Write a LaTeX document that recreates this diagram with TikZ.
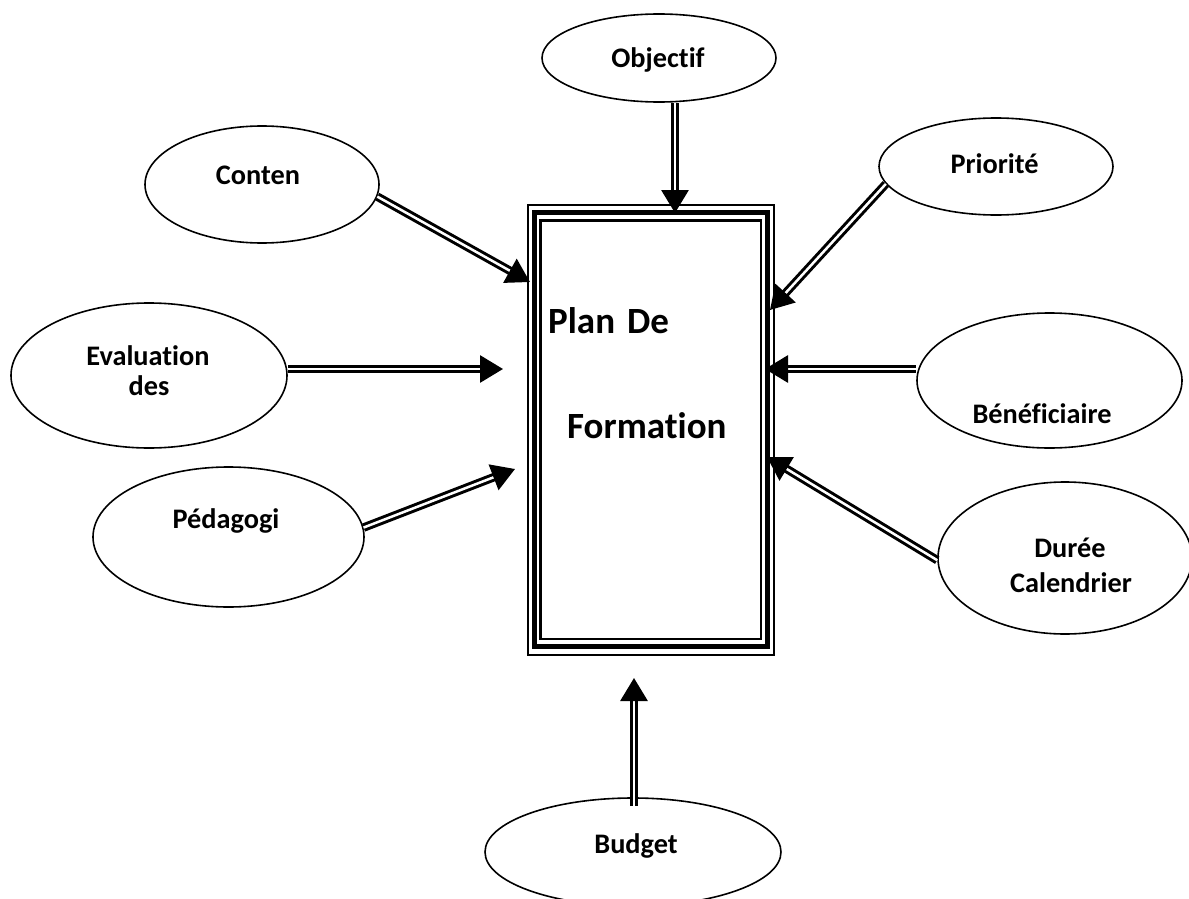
\documentclass[tikz,border=0pt]{standalone}
\usepackage{fontspec}
\setmainfont[Ligatures=NoCommon]{Carlito}
\usetikzlibrary{shapes.geometric,arrows.meta}
\begin{document}
\begin{tikzpicture}[x=1pt,y=-1pt,
  bubble/.style={draw, ellipse, line width=1.6pt, inner sep=0pt},
  lbl/.style={font=\bfseries\fontsize{28.3}{33}\selectfont, anchor=base, inner sep=0pt},
  ttl/.style={font=\bfseries\fontsize{37}{42}\selectfont, anchor=base west, inner sep=0pt},
  frame/.style={draw, rectangle, inner sep=0pt},
  feed/.style={line width=3pt, double=white, double distance=2.5pt,
    -{Triangle[length=23pt,width=27pt]}},
]
\useasboundingbox (0,0) rectangle (1189,899);
\clip (0,0) rectangle (1189,899);

% central plan: three nested frames
\node[frame, line width=2.5pt, minimum width=246pt, minimum height=450pt] (plan) at (651,430) {};
\node[frame, line width=5pt, minimum width=232.5pt, minimum height=433.5pt] (planmid) at (650.75,429.25) {};
\node[frame, line width=2.5pt, minimum width=220.5pt, minimum height=418.5pt] (planin) at (650.75,429.75) {};
\node[ttl] (t1) at (548,333) {Plan\hspace{12pt}De};
\node[ttl] (t2) at (567,438) {Formation};

% surrounding factors
\node[bubble, minimum width=234pt, minimum height=88pt] (obj) at (659,58) {};
\node[bubble, minimum width=234pt, minimum height=117pt] (con) at (262,184.5) {};
\node[bubble, minimum width=234pt, minimum height=97pt] (pri) at (996,166.5) {};
\node[bubble, minimum width=276pt, minimum height=145pt] (eva) at (149,375.5) {};
\node[bubble, minimum width=265pt, minimum height=135pt] (ben) at (1049.5,380.5) {};
\node[bubble, minimum width=271pt, minimum height=140pt] (ped) at (228.5,537) {};
\node[bubble, minimum width=254pt, minimum height=152pt] (dur) at (1065,558) {};
\node[bubble, minimum width=296pt, minimum height=108pt] (bud) at (633,852) {};

\node[lbl] (lobj) at (658,67) {Objectif};
\node[lbl] (lcon) at (258,184) {Conten};
\node[lbl] (lpri) at (994.5,173) {Priorité};
\node[lbl] (leva1) at (148,365.5) {Evaluation};
\node[lbl] (leva2) at (149,395) {des};
\node[lbl] (lben) at (1042,423) {Bénéficiaire};
\node[lbl] (lped) at (226,528) {Pédagogi};
\node[lbl] (ldur1) at (1070,557) {Durée};
\node[lbl] (ldur2) at (1071,592) {Calendrier};
\node[lbl] (lbud) at (636,853) {Budget};

% arrow tips near the plan
\coordinate (tobj) at (675,213);
\coordinate (tcon) at (530,282);
\coordinate (tpri) at (770,310);
\coordinate (teva) at (503,369);
\coordinate (tben) at (765,369);
\coordinate (tped) at (515,469);
\coordinate (tdur) at (767,457);
\coordinate (tbud) at (634,678);

\draw[feed] (obj.south -| tobj) -- (tobj);
\draw[feed] (con.-6) -- (tcon);
\draw[feed] (pri.-171) -- (tpri);
\draw[feed] (eva.east |- teva) -- (teva);
\draw[feed] (ben.west |- tben) -- (tben);
\draw[feed] (ped.4) -- (tped);
\draw[feed] (dur.181) -- (tdur);
\draw[feed] ([yshift=-9pt]bud.north -| tbud) -- (tbud);
\end{tikzpicture}
\end{document}
